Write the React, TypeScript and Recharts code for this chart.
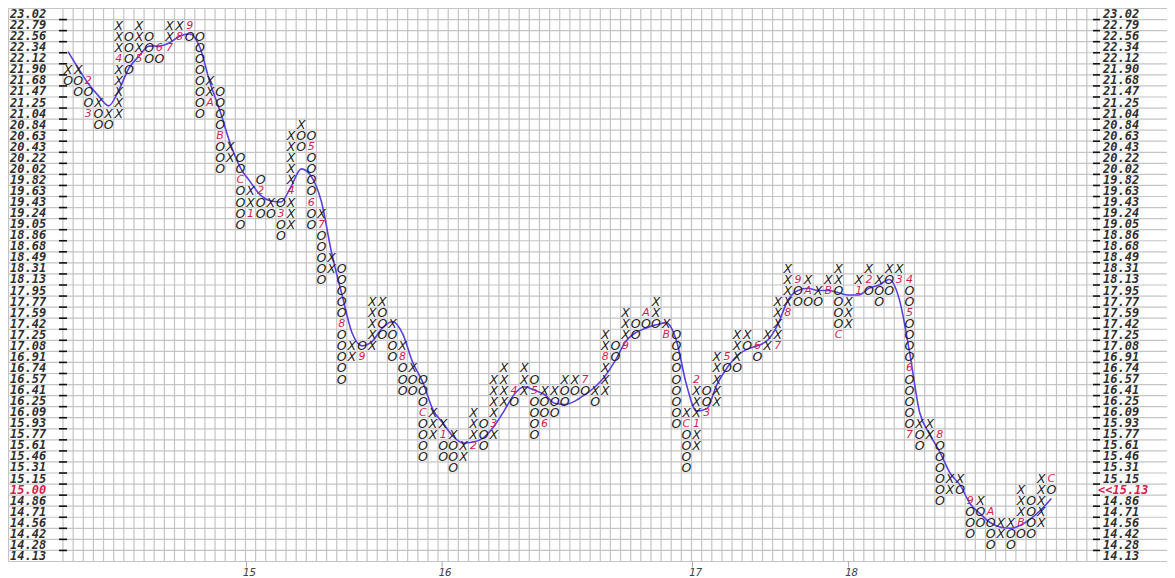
import React from "react";
import { ComposedChart, Scatter, Line, XAxis, YAxis, CartesianGrid } from "recharts";

// box levels, top row first (1% boxes)
const priceLevels = [
  "23.02", "22.79", "22.56", "22.34", "22.12", "21.90", "21.68", "21.47", "21.25", "21.04",
  "20.84", "20.63", "20.43", "20.22", "20.02", "19.82", "19.63", "19.43", "19.24", "19.05",
  "18.86", "18.68", "18.49", "18.31", "18.13", "17.95", "17.77", "17.59", "17.42", "17.25",
  "17.08", "16.91", "16.74", "16.57", "16.41", "16.25", "16.09", "15.93", "15.77", "15.61",
  "15.46", "15.31", "15.15", "15.00", "14.86", "14.71", "14.56", "14.42", "14.28", "14.13",
];

const lastPrice = "15.13";
const lastPriceRow = 43;

// top row of every column
const columnTops = [
  5, 5, 6, 8, 9, 1, 2, 1, 2, 3, 1, 1, 1, 2, 6, 7, 12, 13, 16, 15,
  17, 17, 11, 10, 11, 18, 22, 23, 30, 30, 26, 26, 28, 30, 32, 33, 36, 37, 38, 39,
  36, 37, 33, 32, 34, 32, 33, 34, 34, 33, 33, 33, 34, 29, 30, 27, 28, 27, 26, 28,
  29, 36, 33, 34, 31, 31, 29, 29, 30, 29, 26, 23, 24, 24, 25, 24, 23, 26, 24, 23,
  24, 23, 23, 24, 37, 37, 38, 42, 42, 44, 44, 45, 46, 46, 43, 44, 42, 42,
];

// cells of every column read downward; anything other than X / O is a month mark
const columnCells = [
  "XO", "XOO", "2OO3", "XOO", "XO", "XXX4XXXXX", "OOOO", "XXX5", "OOO", "6O",
  "XX7", "X8", "9O", "OOOOOOOO", "XXA", "OOOOBOOO", "XX", "OOCOOOO", "XX1", "O2OO",
  "XO", "O3OO", "XXXXX4XXX", "XOO", "O5OOOO6OO", "X7OOOOO", "XX", "OOOOO8OOOOO", "XX", "O9",
  "XXXXX", "XOOO", "XOOO", "X8OOO", "XOO", "OOOCOOOO", "XXX", "X1OO", "XOOO", "XX",
  "XXX2", "OOO", "XXXX3X", "XXXX", "4O", "XXX", "O5OOOO", "XOO6", "XOO", "XOO",
  "XO", "7O", "XO", "XX8XXX", "OO", "XXX9", "OO", "AO", "XXO", "XB",
  "OOOOOOOOO", "XCOOOO", "2XXX1XX", "OO3", "XXXXX", "5O", "XXXO", "XO", "6O", "XX",
  "XXXX7", "XXXX8", "9OO", "XAO", "XO", "XB", "XXOOOOC", "XXX", "X1", "X2O",
  "XOO", "XOO", "X3", "4OO5OOOO6OOOOO7", "XOO", "XX", "8OOOOOO", "XX", "XO", "9OOO",
  "XOO", "AOOO", "XX", "XOO", "XXXBO", "OOOO", "XXXXX", "CO",
];

// smoothed trend, in rows, one value per column
const trendRows = [
  3.4, 4.9, 6.3, 7.4, 8.3, 6.9, 4.9, 3.8, 2.9, 2.9, 2.6, 2.0, 1.8, 3.0, 6.2, 8.8, 11.7, 13.9, 15.2, 16.4,
  16.9, 17.0, 15.6, 14.0, 14.7, 17.0, 21.6, 25.3, 28.8, 30.0, 29.6, 28.4, 27.8, 28.9, 31.5, 33.3, 35.8, 37.0, 38.2, 38.8,
  38.7, 38.3, 37.3, 35.9, 34.4, 33.7, 34.0, 34.4, 35.2, 35.3, 35.0, 34.4, 33.7, 32.7, 31.3, 29.6, 28.8, 28.4, 28.1, 27.9,
  29.5, 33.5, 35.9, 35.7, 33.5, 32.0, 30.9, 30.3, 30.0, 29.5, 28.1, 25.9, 25.0, 24.8, 25.0, 25.0, 25.2, 25.4, 25.4, 24.8,
  24.5, 24.0, 25.8, 30.5, 36.0, 38.0, 39.6, 41.5, 42.6, 44.3, 45.2, 46.0, 46.4, 46.5, 46.2, 45.6, 44.8, 43.8,
];

const yearLabels = ["15", "16", "17", "18"];
const yearCols = [17.6, 36.9, 61.6, 77.0];

// layout
const CHART_W = 1166;
const CHART_H = 580;
const FRAME_L = 0.5;
const FRAME_R = 1163.5;
const FRAME_T = 0.5;
const GRID_LEFT = 55;
const COLS = 102;
const CELL_W = 1034 / COLS;
const GRID_RIGHT = GRID_LEFT + COLS * CELL_W;
const ROWS = priceLevels.length;
const ROW_H = 11.06;
const PLOT_H = ROWS * ROW_H;
const PLOT_BOTTOM = FRAME_T + PLOT_H;
const AXIS_H = 22;

const xMin = (FRAME_L - GRID_LEFT) / CELL_W - 0.5;
const xMax = (FRAME_R - GRID_LEFT) / CELL_W - 0.5;

const RED = "#d81b4f";
const INK = "#1e1e1e";
const GRID = "#c4c4c4";

const cells = columnCells.flatMap((s, col) =>
  s.split("").map((ch, j) => ({ col, row: columnTops[col] + j, ch }))
);
const trend = trendRows.map((row, col) => ({ col, row }));
const rowTicks = priceLevels.map((_, k) => k);

const verticalPoints = [
  FRAME_L,
  ...Array.from({ length: COLS + 1 }, (_, i) => GRID_LEFT + i * CELL_W),
  FRAME_R,
];
const horizontalPoints = Array.from({ length: ROWS + 1 }, (_, k) => FRAME_T + k * ROW_H);

const Glyph = (p: any) => {
  const { cx, cy, payload } = p;
  const ch: string = payload.ch;
  const mark = ch !== "X" && ch !== "O";
  return (
    <text
      x={cx}
      y={cy}
      textAnchor="middle"
      dominantBaseline="central"
      fontFamily="DejaVu Sans"
      fontStyle="italic"
      fontSize={mark ? 11 : 12.5}
      fill={mark ? RED : INK}
    >
      {ch}
    </text>
  );
};

const PriceTick = (p: any) => {
  const k: number = p.payload.value;
  const y: number = p.y;
  const top = y - ROW_H / 2;
  const last = k === lastPriceRow;
  const font = {
    fontFamily: "DejaVu Sans Mono",
    fontStyle: "italic",
    fontWeight: "bold",
    fontSize: 12,
  } as const;
  return (
    <g>
      {k > 0 && <line x1={GRID_LEFT - 4} x2={GRID_LEFT + 4} y1={top} y2={top} stroke="#111" strokeWidth={1.6} />}
      {k > 0 && <line x1={GRID_RIGHT - 4} x2={GRID_RIGHT + 3} y1={top} y2={top} stroke="#111" strokeWidth={1.6} />}
      <text x={2} y={y} dominantBaseline="central" fill={last ? RED : "#2e2e2e"} {...font}>
        {priceLevels[k]}
      </text>
      <text
        x={last ? GRID_RIGHT + 1 : GRID_RIGHT + 6}
        y={y}
        dominantBaseline="central"
        fill={last ? RED : "#2e2e2e"}
        {...font}
      >
        {last ? "<<" + lastPrice : priceLevels[k]}
      </text>
    </g>
  );
};

const YearTick = (p: any) => {
  const { x, payload } = p;
  const i = yearCols.indexOf(payload.value);
  return (
    <g>
      <line x1={x} x2={x} y1={PLOT_BOTTOM} y2={PLOT_BOTTOM + 6} stroke="#aaa" />
      <text
        x={x + 3}
        y={PLOT_BOTTOM + 11}
        textAnchor="middle"
        dominantBaseline="central"
        fontFamily="DejaVu Sans Mono"
        fontStyle="italic"
        fontSize={11}
        fill="#444"
      >
        {yearLabels[i]}
      </text>
    </g>
  );
};

export default function App() {
  return (
    <div style={{ width: CHART_W, height: CHART_H, background: "#fff" }}>
      <ComposedChart
        width={CHART_W}
        height={CHART_H}
        margin={{
          top: FRAME_T,
          left: FRAME_L,
          right: CHART_W - FRAME_R,
          bottom: CHART_H - PLOT_BOTTOM - AXIS_H,
        }}
      >
        <CartesianGrid
          verticalPoints={verticalPoints}
          horizontalPoints={horizontalPoints}
          stroke={GRID}
          strokeWidth={1.2}
        />
        <XAxis
          type="number"
          dataKey="col"
          domain={[xMin, xMax]}
          allowDataOverflow
          ticks={yearCols}
          interval={0}
          axisLine={false}
          tickLine={false}
          height={AXIS_H}
          tick={<YearTick />}
        />
        <YAxis
          type="number"
          dataKey="row"
          domain={[-0.5, ROWS - 0.5]}
          allowDataOverflow
          reversed
          mirror
          ticks={rowTicks}
          interval={0}
          axisLine={false}
          tickLine={false}
          tick={<PriceTick />}
        />
        <Scatter data={cells} dataKey="row" shape={Glyph} isAnimationActive={false} />
        <Line
          data={trend}
          dataKey="row"
          type="monotone"
          stroke="#5a3fe3"
          strokeWidth={1.6}
          dot={false}
          activeDot={false}
          isAnimationActive={false}
        />
      </ComposedChart>
    </div>
  );
}
